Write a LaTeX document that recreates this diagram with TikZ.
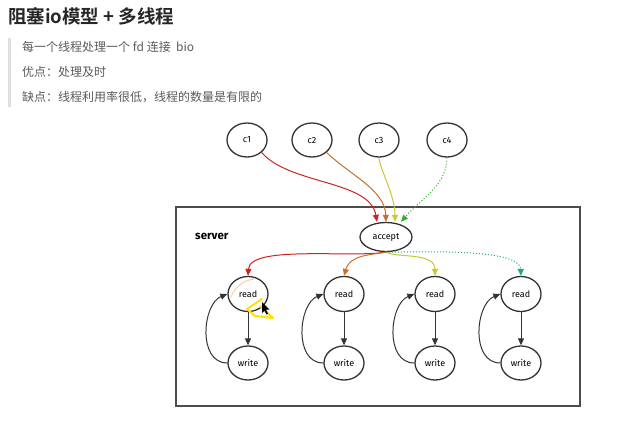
\documentclass[tikz,border=0pt]{standalone}
\usepackage{fontspec}
\setmainfont{DejaVu Sans}
\newfontfamily\cjk{Noto Sans CJK SC}
\newfontfamily\cjkb{Noto Sans CJK SC Bold}
\newfontfamily\hand{Fira Sans}
\usetikzlibrary{arrows.meta,shapes.geometric}
\definecolor{cred}{HTML}{CC2222}
\definecolor{corange}{HTML}{C8702E}
\definecolor{cyellow}{HTML}{C8C830}
\definecolor{cgreen}{HTML}{30B030}
\definecolor{cteal}{HTML}{20A878}
\definecolor{txtgray}{HTML}{5A5A5A}
\definecolor{linegray}{HTML}{333333}
\tikzset{
  ell/.style={ellipse, draw=linegray, line width=1.3pt, minimum width=40pt, minimum height=34pt, inner sep=0pt, font=\hand\fontsize{9}{10}\selectfont},
  conn/.style={line width=1pt, -{Triangle[length=7pt,width=6pt]}},
  loopc/.style={line width=1pt, draw=linegray, -{Triangle[length=7pt,width=6pt]}},
}
\begin{document}
\begin{tikzpicture}[x=1pt,y=-1pt]
\useasboundingbox (0,0) rectangle (619,421);
% header
\node[anchor=west, inner sep=0pt, text=black!85] (title) at (8,16) {\cjkb\fontsize{18.5}{21}\selectfont 阻塞io模型 + 多线程};
\fill[black!12] (8,38) rectangle (11,107);
\node[anchor=west, inner sep=0pt, text=txtgray] (l1) at (22,47) {\cjk\fontsize{12}{14}\selectfont 每一个线程处理一个 fd 连接\ \ bio};
\node[anchor=west, inner sep=0pt, text=txtgray] (l2) at (22,72) {\cjk\fontsize{12}{14}\selectfont 优点：处理及时};
\node[anchor=west, inner sep=0pt, text=txtgray] (l3) at (22,97) {\cjk\fontsize{12}{14}\selectfont 缺点：线程利用率很低，线程的数量是有限的};
% server box
\draw[line width=1.1pt, draw=black!70] (176,207) rectangle (580,406);
\node[anchor=west, inner sep=0pt, font=\hand\bfseries\fontsize{11.5}{12}\selectfont] (srv) at (195,236) {server};
% clients
\node[ell] (c1) at (247,140) {c1};
\node[ell] (c2) at (312,140) {c2};
\node[ell] (c3) at (379,140) {c3};
\node[ell] (c4) at (447,140) {c4};
\node[ell, minimum width=52pt, minimum height=29pt] (acc) at (386,237) {accept};
% threads
\foreach \i/\x in {1/248,2/344,3/435,4/521}{
  \node[ell, minimum height=35pt] (r\i) at (\x,294) {read};
  \node[ell, minimum height=34pt] (w\i) at (\x,363) {write};
  \draw[loopc] (r\i) -- (w\i);
  \draw[loopc] (w\i.west) .. controls +(-30,0) and +(-25,10) .. (r\i.west);
}
% client -> accept
\coordinate (a1) at (377,222);
\coordinate (a2) at (386,222);
\coordinate (a3) at (395,222);
\coordinate (a4) at (401,221);
\draw[conn, cred] (c1.south east) .. controls (290,185) and (370,180) .. (acc.north -| a1);
\draw[conn, corange] (c2.south east) .. controls (350,175) and (385,190) .. (acc.north -| a2);
\draw[conn, cyellow] (c3.south) .. controls (380,170) and (395,195) .. (acc.north -| a3);
\draw[conn, cgreen, dotted] (c4.south) .. controls (447,185) and (420,200) .. (acc.north -| a4);
% accept -> read
\draw[conn, cred] (acc.south) .. controls (350,258) and (250,245) .. (r1.north);
\draw[conn, corange] (acc.south) .. controls (370,255) and (350,255) .. (r2.north);
\draw[conn, cyellow] (acc.south) .. controls (395,258) and (435,252) .. (r3.north);
\draw[conn, cteal, dotted] (acc.south) .. controls (420,252) and (520,248) .. (r4.north);
% annotation scribble
\draw[line width=1.2pt, draw=orange!35, line cap=round] (231,297) .. controls (235,286) and (245,280) .. (254,279);
\draw[line width=2pt, draw=yellow!85!orange, line cap=round, line join=round] (262,299) -- (247,309) -- (255,316) -- (273,318) -- (260,306);
\fill[black] (262,302) -- (262,313) -- (264.5,310.5) -- (266.5,314.5) -- (268,313.7) -- (266,309.7) -- (269.5,309.5) -- cycle;
\end{tikzpicture}
\end{document}
